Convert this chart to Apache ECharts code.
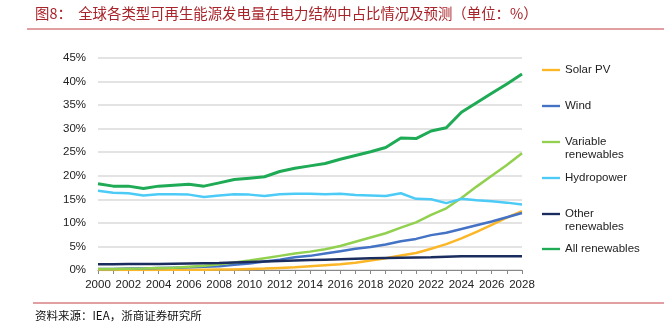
<!DOCTYPE html>
<html>
<head>
<meta charset="utf-8">
<script src="https://cdn.jsdelivr.net/npm/echarts@6/dist/echarts.min.js"></script>
<style>
html,body{margin:0;padding:0;background:#fff;}
#chart{width:664px;height:328px;}
</style>
</head>
<body>
<div id="chart"></div>
<script>
// Share of renewables in global electricity generation, 2000-2028 (%)
const years = [];
for (let y = 2000; y <= 2028; y++) years.push(String(y));

const solarPV = [0.0,0.0,0.0,0.0,0.0,0.05,0.05,0.05,0.1,0.1,0.2,0.3,0.45,0.6,0.8,1.0,1.2,1.55,2.0,2.5,3.1,3.6,4.5,5.5,6.7,8.1,9.6,11.1,12.5];
const wind = [0.2,0.2,0.3,0.3,0.4,0.5,0.6,0.7,0.8,1.1,1.4,1.8,2.2,2.7,3.0,3.5,4.0,4.5,4.9,5.4,6.1,6.6,7.4,7.9,8.7,9.5,10.3,11.2,12.1];
const variableRenewables = [0.2,0.2,0.25,0.3,0.4,0.5,0.7,0.9,1.2,1.6,2.0,2.5,3.0,3.5,3.9,4.4,5.1,6.0,6.9,7.8,9.0,10.1,11.7,13.1,15.3,17.7,20.0,22.3,24.8];
const hydropower = [16.8,16.4,16.3,15.8,16.1,16.1,16.0,15.5,15.8,16.1,16.0,15.7,16.1,16.2,16.2,16.1,16.2,15.9,15.8,15.7,16.3,15.1,15.0,14.2,15.1,14.8,14.6,14.3,13.9];
const otherRenewables = [1.2,1.2,1.25,1.3,1.3,1.35,1.4,1.45,1.5,1.6,1.7,1.8,1.9,2.0,2.1,2.2,2.3,2.4,2.5,2.55,2.6,2.65,2.7,2.8,2.9,2.9,2.9,2.9,2.9];
const allRenewables = [18.3,17.8,17.8,17.3,17.8,18.0,18.2,17.8,18.5,19.2,19.5,19.8,20.9,21.6,22.1,22.6,23.5,24.3,25.1,26.0,28.0,27.9,29.5,30.2,33.5,35.5,37.5,39.5,41.6];

const seriesNames = ['Solar PV','Wind','Variable\nrenewables','Hydropower','Other\nrenewables','All renewables'];
const seriesData = [solarPV, wind, variableRenewables, hydropower, otherRenewables, allRenewables];
const seriesColors = ['#FBB728','#4472C4','#92D050','#4DCBF7','#1B2D5E','#1FAA55'];
const seriesWidths = [2.5,2.5,2.5,2.5,2.5,3];
// icon centre y for each legend entry
const legendCentres = [70, 106, 142, 178, 214, 249];

const yTicks = [0,5,10,15,20,25,30,35,40,45];

const chart = echarts.init(document.getElementById('chart'), null, {renderer:'canvas'});

const LH = 12.5;
const legends = seriesNames.map((name, i) => {
  const multi = name.indexOf('\n') >= 0;
  // two-line names get a blank leading line so the icon sits beside the first line
  const boxH = multi ? 3 * LH : LH;
  return {
    data: [name],
    left: 542,
    top: legendCentres[i] - boxH / 2,
    orient: 'vertical',
    padding: 0,
    itemWidth: 18,
    itemHeight: 10,
    itemGap: 0,
    icon: 'path://M0,0 L20,0 L20,2.6 L0,2.6 Z',
    selectedMode: false,
    formatter: n => (n.indexOf('\n') >= 0 ? ' \n' + n : n),
    textStyle: {
      fontFamily: 'Arial, "Liberation Sans", sans-serif',
      fontSize: 11.5,
      color: '#222',
      lineHeight: LH
    }
  };
});

chart.setOption({
  animation: false,
  backgroundColor: '#fff',
  textStyle: {fontFamily: 'Arial, "Liberation Sans", sans-serif'},
  graphic: [
    {
      type: 'text', left: 35, top: 6,
      style: {
        text: '图8：  全球各类型可再生能源发电量在电力结构中占比情况及预测（单位：%）',
        fill: '#A8232A',
        font: '14.4px "Noto Sans CJK SC"'
      }
    },
    {type: 'line', shape: {x1: 27, y1: 29, x2: 664, y2: 29}, style: {stroke: '#D77F83', lineWidth: 1.5}},
    {type: 'line', shape: {x1: 33, y1: 303, x2: 664, y2: 303}, style: {stroke: '#D77F83', lineWidth: 1.5}},
    {
      type: 'text', left: 35, top: 310,
      style: {
        text: '资料来源：IEA，浙商证券研究所',
        fill: '#111',
        font: '11.5px "Noto Sans CJK SC"'
      }
    }
  ],
  legend: legends,
  grid: {left: 98, right: 142, top: 58, bottom: 58, containLabel: false},
  xAxis: {
    type: 'category',
    data: years,
    boundaryGap: false,
    axisLine: {show: true, lineStyle: {color: '#888', width: 1}},
    axisTick: {show: true, alignWithLabel: true, interval: 0, length: 4, lineStyle: {color: '#888'}},
    axisLabel: {interval: 1, color: '#222', fontSize: 11.5, margin: 9}
  },
  yAxis: {
    type: 'value',
    min: 0, max: 45, interval: 5,
    axisLine: {show: false},
    axisTick: {show: false},
    axisLabel: {
      color: '#222', fontSize: 11.5, margin: 12,
      formatter: v => yTicks.indexOf(v) >= 0 ? v + '%' : ''
    },
    splitLine: {lineStyle: {color: '#DADADA', width: 1.5}}
  },
  series: seriesNames.map((name, i) => ({
    name: name,
    type: 'line',
    data: seriesData[i],
    showSymbol: false,
    symbol: 'none',
    smooth: false,
    lineStyle: {color: seriesColors[i], width: seriesWidths[i]},
    itemStyle: {color: seriesColors[i]},
    z: 2 + i
  }))
});
</script>
</body>
</html>
